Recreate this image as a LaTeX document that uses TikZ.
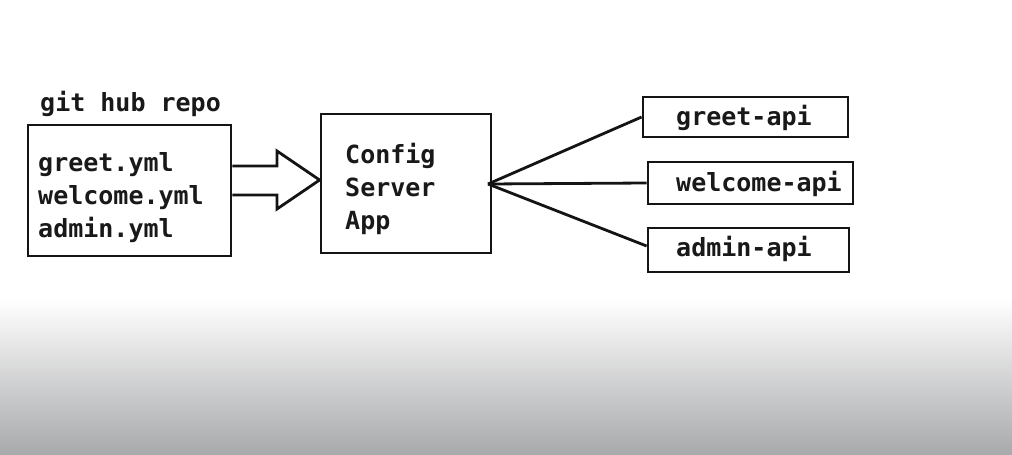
\documentclass[tikz,border=0pt]{standalone}
\usepackage{fontspec}
\setmonofont{DejaVu Sans Mono}
\begin{document}
\begin{tikzpicture}[x=1pt,y=-1pt,
  ink/.style={draw={rgb,255:red,20;green,20;blue,20},line width=2.8pt},
  box/.style={ink,rectangle,inner sep=0pt,fill=white},
  lbl/.style={text={rgb,255:red,25;green,25;blue,25},font=\fontsize{25}{33}\selectfont\ttfamily\bfseries,inner sep=0pt,align=left}]
\useasboundingbox (0,0) rectangle (1012,455);
\fill[white] (0,0) rectangle (1012,300);
\shade[top color=white,bottom color={rgb,255:red,168;green,169;blue,171}] (0,299) rectangle (1012,455);
% repo
\node[lbl,anchor=west] (title) at (40,104) {git hub repo};
\node[box,minimum width=203pt,minimum height=131pt] (r) at (129.5,190.5) {};
\node[lbl,anchor=west] (files) at (38,198) {greet.yml\\welcome.yml\\admin.yml};
% config server
\node[box,minimum width=170pt,minimum height=139pt] (c) at (406,183.5) {};
\node[lbl,anchor=west] (ct) at (345,189) {Config\\Server\\App};
% apis
\node[box,minimum width=205pt,minimum height=40pt] (g) at (745.5,117) {};
\node[lbl,anchor=west] (gt) at (676,118) {greet-api};
\node[box,minimum width=205pt,minimum height=42pt] (w) at (750.5,183) {};
\node[lbl,anchor=west] (wt) at (676,184) {welcome-api};
\node[box,minimum width=201pt,minimum height=44pt] (a) at (748.5,250) {};
\node[lbl,anchor=west] (at) at (676,249) {admin-api};
% hollow arrow
\draw[ink,line join=miter] (r.east |- 0,166) -- (277,166) -- (277,151) -- (c.west |- 0,180) -- (277,209) -- (277,195) -- (r.east |- 0,195);
% fan
\coordinate (hub) at (488,184);
\draw[ink] (hub) -- (g.west);
\draw[ink] (hub) -- (w.west);
\draw[ink] (hub) -- ([yshift=4pt]a.west);
\end{tikzpicture}
\end{document}
